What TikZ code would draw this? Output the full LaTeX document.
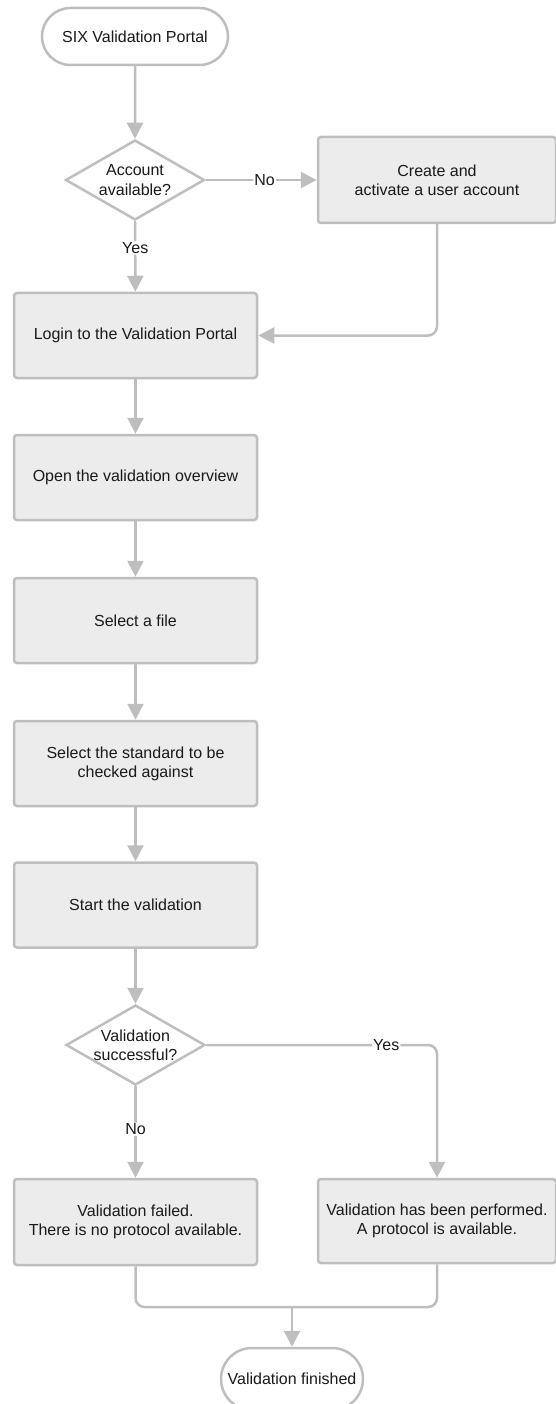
\documentclass[tikz,border=0pt]{standalone}
\usepackage{fontspec}
\setmainfont{Liberation Sans}
\usetikzlibrary{arrows.meta,shapes.geometric,shapes.misc}

\begin{document}
\begin{tikzpicture}[x=1pt,y=-1pt,
	every node/.style={font=\fontsize{16}{19.2}\selectfont, text=INK},
	terminal/.style={rounded rectangle, draw=GREY, fill=white, line width=2.5pt,
		minimum height=57pt, inner sep=0pt},
	decision/.style={diamond, aspect=1.75, draw=GREY, fill=white, line width=2.5pt,
		minimum width=139pt, minimum height=80pt, inner sep=-2pt, align=center},
	stepbox/.style={rectangle, draw=GREY, fill=LIGHTGREY, line width=2.5pt,
		rounded corners=3pt, minimum width=243pt, minimum height=85pt, align=center},
	flow/.style={GREY, line width=2.5pt, line join=round, rounded corners=9pt,
		-{Triangle[width=16pt,length=16pt]}},
	link/.style={GREY, line width=2.5pt, line join=round, rounded corners=9pt},
	answer/.style={fill=white, inner sep=1pt}]
	\definecolor{GREY}{RGB}{190,190,190}
	\definecolor{LIGHTGREY}{RGB}{236,236,236}
	\definecolor{INK}{RGB}{25,25,25}
	\useasboundingbox (0,0) rectangle (555,1404);

	\node[terminal, minimum width=186pt] (portal) at (135,36.5) {SIX Validation Portal};
	\node[decision] (account) at (135,180) {Account\\available?};
	\node[stepbox, minimum width=238pt, minimum height=86pt] (create) at (437,180)
	{Create and\\activate a user account};
	\node[stepbox] (login) at (135.5,335.5) {Login to the Validation Portal};
	\node[stepbox] (overview) at (135.5,477.5) {Open the validation overview};
	\node[stepbox] (file) at (135.5,620.5) {Select a file};
	\node[stepbox] (standard) at (135.5,763.5) {Select the standard to be\\checked against};
	\node[stepbox] (start) at (135.5,905) {Start the validation};
	\node[decision] (success) at (135.5,1045) {Validation\\successful?};
	\node[stepbox, minimum height=86pt] (failed) at (135.5,1222)
	{Validation failed.\\There is no protocol available.};
	\node[stepbox, minimum width=238pt, minimum height=84pt] (performed) at (437,1221)
	{Validation has been performed.\\A protocol is available.};
	\node[terminal, minimum width=142pt, minimum height=62pt] (finished) at (292,1379)
	{Validation finished};
	\coordinate (merge) at (292,1307);

	\draw[flow] (portal) -- (account);
	\draw[flow] (account) -- node[answer, pos=0.53] {No} (create);
	\draw[flow] (account) -- node[answer, pos=0.38] {Yes} (login);
	\draw[flow] (create) |- (login);
	\draw[flow] (login) -- (overview);
	\draw[flow] (overview) -- (file);
	\draw[flow] (file) -- (standard);
	\draw[flow] (standard) -- (start);
	\draw[flow] (start) -- (success);
	\draw[flow] (success) -| node[answer, pos=0.39] {Yes} (performed);
	\draw[flow] (success) -- node[answer, pos=0.47] {No} (failed);
	\draw[link] (failed) |- (merge);
	\draw[link] (performed) |- (merge);
	\draw[flow] (merge) -- (finished);
\end{tikzpicture}
\end{document}
